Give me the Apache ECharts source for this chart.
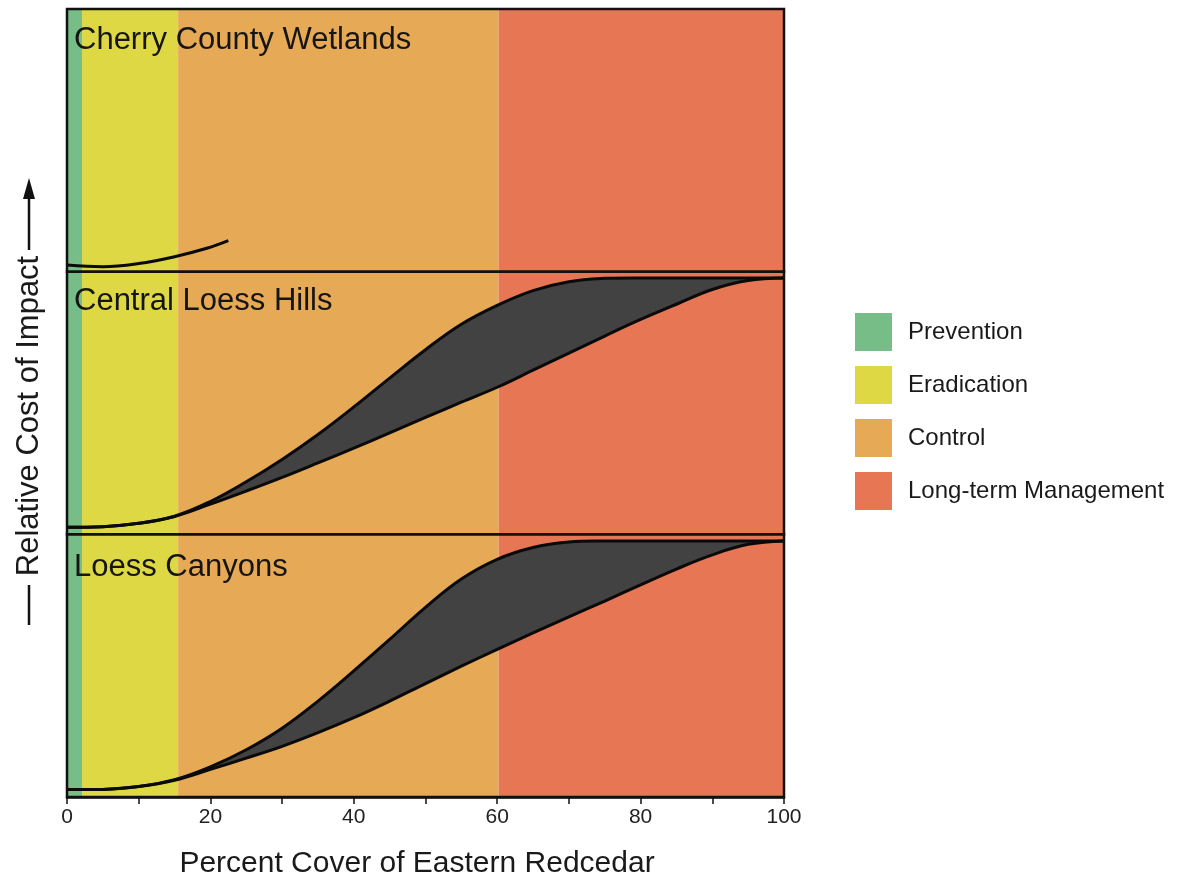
<!DOCTYPE html>
<html>
<head>
<meta charset="utf-8">
<script src="https://cdn.jsdelivr.net/npm/echarts@6/dist/echarts.min.js"></script>
<style>
html,body{margin:0;padding:0;background:#fff;}
#chart{width:1182px;height:878px;}
</style>
</head>
<body>
<div id="chart"></div>
<script>
// ---- data ----
const zoneNames = ['Prevention', 'Eradication', 'Control', 'Long-term Management'];
const zoneStart = [0, 2.1, 15.5, 60.2];
const zoneEnd = [2.1, 15.5, 60.2, 100];
const zoneColors = ['#77BD87', '#DDD843', '#E6A955', '#E77655'];

const panelTitles = ['Cherry County Wetlands', 'Central Loess Hills', 'Loess Canyons'];

const cherryX = [0, 5, 10, 15, 19.5, 22.5];
const cherryY = [0.025, 0.019, 0.031, 0.057, 0.089, 0.118];

const coverX = [0, 5, 10, 15, 20, 25, 30, 35, 40, 45, 50, 55, 60, 65, 70, 75, 80, 85, 90, 95, 100];
const hillsLow  = [0.027, 0.029, 0.042, 0.068, 0.115, 0.165, 0.217, 0.272, 0.328, 0.386, 0.445, 0.503, 0.560, 0.625, 0.690, 0.755, 0.818, 0.876, 0.932, 0.966, 0.976];
const hillsHigh = [0.027, 0.029, 0.042, 0.069, 0.125, 0.200, 0.285, 0.380, 0.485, 0.595, 0.703, 0.800, 0.872, 0.928, 0.962, 0.975, 0.976, 0.976, 0.976, 0.976, 0.976];
const canyonLow  = [0.029, 0.029, 0.040, 0.064, 0.105, 0.148, 0.193, 0.245, 0.302, 0.365, 0.432, 0.498, 0.562, 0.625, 0.686, 0.746, 0.808, 0.868, 0.922, 0.962, 0.975];
const canyonHigh = [0.029, 0.029, 0.040, 0.066, 0.115, 0.180, 0.262, 0.365, 0.480, 0.600, 0.722, 0.830, 0.905, 0.950, 0.971, 0.975, 0.975, 0.975, 0.975, 0.975, 0.975];

const xTickValues = [0, 20, 40, 60, 80, 100];

// ---- layout ----
const FONT = "'Liberation Sans', Arial, Helvetica, sans-serif";
const L = 67, W = 717, TOP = 9, PH = 262.67;
const SMOOTH = 0.4;

const chart = echarts.init(document.getElementById('chart'));

const grids = [{ left: L, top: TOP, width: W, height: PH * 3, outerBoundsMode: 'none', containLabel: false }];
const xAxes = [{ gridIndex: 0, type: 'value', min: 0, max: 100, show: false }];
const yAxes = [{ gridIndex: 0, type: 'value', min: 0, max: 1, show: false }];
for (let i = 0; i < 3; i++) {
  grids.push({ left: L, top: TOP + i * PH, width: W, height: PH, show: true, outerBoundsMode: 'none',
    containLabel: false, borderColor: '#111', borderWidth: 2.5, backgroundColor: 'transparent', z: 10 });
  const last = i === 2;
  xAxes.push({
    gridIndex: i + 1, type: 'value', min: 0, max: 100, interval: 10, show: last, z: 11,
    axisLine: { show: true, lineStyle: { color: '#111', width: 2.5 } },
    axisTick: { show: true, length: 7, lineStyle: { color: '#111', width: 1.5 } },
    axisLabel: { show: true, fontSize: 21, color: '#222', fontFamily: FONT, margin: 10,
      formatter: v => (xTickValues.indexOf(v) >= 0 ? String(v) : '') },
    splitLine: { show: false },
    name: last ? 'Percent Cover of Eastern Redcedar' : '',
    nameLocation: 'middle', nameGap: 52,
    nameTextStyle: { fontSize: 30, color: '#1a1a1a', fontFamily: FONT, padding: [0, 17, 0, 0] }
  });
  yAxes.push({ gridIndex: i + 1, type: 'value', min: 0, max: 1, show: false });
}

// smooth bezier helper (pixel points -> control points), clamped to the curve's y-range
function controlPoints(pts) {
  const n = pts.length;
  let minY = Infinity, maxY = -Infinity;
  pts.forEach(p => { minY = Math.min(minY, p[1]); maxY = Math.max(maxY, p[1]); });
  const cin = [], cout = [];
  for (let i = 0; i < n; i++) {
    const p = pts[i];
    if (i === 0 || i === n - 1) { cin.push(p.slice()); cout.push(p.slice()); continue; }
    const a = pts[i - 1], b = pts[i + 1];
    const vx = (b[0] - a[0]) * SMOOTH, vy = (b[1] - a[1]) * SMOOTH;
    const d0 = Math.hypot(p[0] - a[0], p[1] - a[1]);
    const d1 = Math.hypot(b[0] - p[0], b[1] - p[1]);
    const s = (d0 + d1) || 1;
    const clampY = y => Math.min(maxY, Math.max(minY, y));
    cin.push([p[0] - vx * d0 / s, clampY(p[1] - vy * d0 / s)]);
    cout.push([p[0] + vx * d1 / s, clampY(p[1] + vy * d1 / s)]);
  }
  return { cin, cout };
}
function fwdPath(pts, cp, move) {
  let d = (move ? 'M' : 'L') + pts[0][0] + ' ' + pts[0][1];
  for (let i = 0; i < pts.length - 1; i++) {
    d += ' C' + cp.cout[i][0] + ' ' + cp.cout[i][1] + ' ' + cp.cin[i + 1][0] + ' ' + cp.cin[i + 1][1] +
      ' ' + pts[i + 1][0] + ' ' + pts[i + 1][1];
  }
  return d;
}
function revPath(pts, cp) {
  const n = pts.length;
  let d = ' L' + pts[n - 1][0] + ' ' + pts[n - 1][1];
  for (let i = n - 2; i >= 0; i--) {
    d += ' C' + cp.cin[i + 1][0] + ' ' + cp.cin[i + 1][1] + ' ' + cp.cout[i][0] + ' ' + cp.cout[i][1] +
      ' ' + pts[i][0] + ' ' + pts[i][1];
  }
  return d;
}

const series = [];
zoneNames.forEach((name, k) => {
  series.push({
    name: name, type: 'custom', xAxisIndex: 0, yAxisIndex: 0, z: 1,
    itemStyle: { color: zoneColors[k] },
    data: [[zoneStart[k], zoneEnd[k]]],
    renderItem: (params, api) => {
      const p0 = api.coord([api.value(0), 1]);
      const p1 = api.coord([api.value(1), 0]);
      return { type: 'rect', shape: { x: p0[0], y: p0[1], width: p1[0] - p0[0], height: p1[1] - p0[1] },
        style: { fill: zoneColors[k] } };
    },
    silent: true
  });
});

const blackLine = { color: '#0a0a0a', width: 3 };
series.push({
  name: 'cherry', type: 'line', xAxisIndex: 1, yAxisIndex: 1, z: 5,
  data: cherryX.map((x, i) => [x, cherryY[i]]),
  smooth: 0.4, symbol: 'none', lineStyle: blackLine, silent: true
});

function bandSeries(idx, low, high, key) {
  series.push({
    name: key, type: 'custom', xAxisIndex: idx, yAxisIndex: idx, z: 4, silent: true,
    data: coverX.map((x, i) => [x, low[i], high[i]]),
    renderItem: (params, api) => {
      if (params.dataIndex !== 0) return null;
      const lowPts = coverX.map((x, i) => api.coord([x, low[i]]));
      const highPts = coverX.map((x, i) => api.coord([x, high[i]]));
      const cpL = controlPoints(lowPts), cpH = controlPoints(highPts);
      const fillD = fwdPath(highPts, cpH, true) + revPath(lowPts, cpL) + ' Z';
      return {
        type: 'group',
        children: [
          { type: 'path', shape: { pathData: fillD }, style: { fill: '#424242', stroke: null } },
          { type: 'path', shape: { pathData: fwdPath(lowPts, cpL, true) },
            style: { fill: null, stroke: '#0a0a0a', lineWidth: 3, lineJoin: 'round' } },
          { type: 'path', shape: { pathData: fwdPath(highPts, cpH, true) },
            style: { fill: null, stroke: '#0a0a0a', lineWidth: 3, lineJoin: 'round' } }
        ]
      };
    }
  });
}
bandSeries(2, hillsLow, hillsHigh, 'hills');
bandSeries(3, canyonLow, canyonHigh, 'canyon');

const titleTops = [25, 286, 552];
const titles = panelTitles.map((t, i) => ({
  text: t, left: 74, top: titleTops[i], padding: 0,
  textStyle: { fontSize: 31, fontWeight: 'normal', color: '#151515', fontFamily: FONT }
}));

chart.setOption({
  animation: false,
  backgroundColor: '#ffffff',
  title: titles,
  legend: {
    data: zoneNames, orient: 'vertical', left: 855, top: 313, padding: 0,
    itemWidth: 37, itemHeight: 38, itemGap: 15, icon: 'rect', selectedMode: false,
    textStyle: { fontSize: 24, color: '#1a1a1a', fontFamily: FONT, padding: [0, 0, 0, 11] }
  },
  grid: grids,
  xAxis: xAxes,
  yAxis: yAxes,
  series: series,
  graphic: [
    { type: 'text', x: 29, y: 416, rotation: Math.PI / 2,
      style: { text: 'Relative Cost of Impact', fontSize: 31, fontFamily: FONT, fill: '#1a1a1a',
        align: 'center', verticalAlign: 'middle' } },
    { type: 'line', shape: { x1: 29, y1: 585, x2: 29, y2: 625 }, style: { stroke: '#111', lineWidth: 2.5 } },
    { type: 'line', shape: { x1: 29, y1: 196, x2: 29, y2: 250 }, style: { stroke: '#111', lineWidth: 2.5 } },
    { type: 'polygon', shape: { points: [[23, 199], [35, 199], [29, 178]] }, style: { fill: '#111' } }
  ]
});
</script>
</body>
</html>
